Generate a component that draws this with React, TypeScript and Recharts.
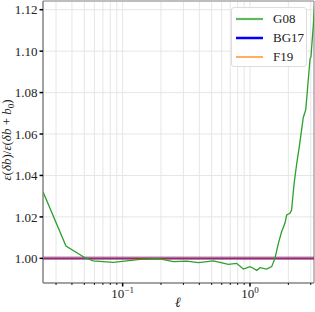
import React from 'react';
import {
  LineChart,
  Line,
  XAxis,
  YAxis,
  CartesianGrid,
  ReferenceLine,
  ReferenceArea,
  Legend,
  Label,
} from 'recharts';

const g08Ell = [
  0.0237, 0.0359, 0.0506, 0.0588, 0.0844, 0.137, 0.196, 0.25, 0.318, 0.393, 0.515, 0.581, 0.675,
  0.785, 0.887, 1.0, 1.06, 1.13, 1.2, 1.35, 1.48, 1.57, 1.67, 1.77, 1.88, 1.94, 2.06, 2.12, 2.22,
  2.33, 2.44, 2.62, 2.74, 2.96, 3.01, 3.14, 3.24,
];
const g08Vals = [
  1.0321, 1.0059, 1.0003, 0.9988, 0.9981, 0.9995, 0.9997, 0.9984, 0.9987, 0.9979, 0.9988, 0.9981,
  0.9971, 0.9976, 0.9948, 0.996, 0.9952, 0.9942, 0.9955, 0.9948, 0.996, 1.0, 1.0072, 1.0128, 1.0169,
  1.0209, 1.0217, 1.0233, 1.0361, 1.046, 1.054, 1.068, 1.0718, 1.0962, 1.0972, 1.1124, 1.126,
];
const flatEll = [0.0237, 3.18];
const bg17Vals = [1.0, 1.0];
const f19Vals = [1.0, 1.0];

const xTicks = [
  0.03, 0.04, 0.05, 0.06, 0.07, 0.08, 0.09, 0.1, 0.2, 0.3, 0.4, 0.5, 0.6, 0.7, 0.8, 0.9, 1, 2, 3,
];
const majorLabels: Record<string, string> = { '0.1': '\u22121', '1': '0' };
const yTicks = [1.0, 1.02, 1.04, 1.06, 1.08, 1.1, 1.12];

const X_DOMAIN: [number, number] = [0.0237, 3.18];
const Y_DOMAIN: [number, number] = [0.9881, 1.1242];

const g08Data = g08Ell.map((ell, i) => ({ ell, v: g08Vals[i] }));
const bg17Data = flatEll.map((ell, i) => ({ ell, v: bg17Vals[i] }));
const f19Data = flatEll.map((ell, i) => ({ ell, v: f19Vals[i] }));

const FONT = '"Liberation Serif", "DejaVu Serif", serif';

const legendItems = [
  { name: 'G08', color: '#2ca02c', width: 2.2, opacity: 0.75 },
  { name: 'BG17', color: '#0000ff', width: 2.5, opacity: 1 },
  { name: 'F19', color: '#ff7f0e', width: 1.5, opacity: 0.85 },
];

const XTick = (props: any) => {
  const { x, y, payload } = props;
  const exp = majorLabels[String(payload.value)];
  const major = exp !== undefined;
  return (
    <g>
      <line x1={x} x2={x} y1={y} y2={y + (major ? 3.5 : 2)} stroke="#000" strokeWidth={major ? 1.5 : 0.9} />
      {major && (
        <text x={x} y={y + 15} textAnchor="middle" fontFamily={FONT} fontSize={13} fill="#222">
          10
          <tspan dy={-5} fontSize={9}>
            {exp}
          </tspan>
        </text>
      )}
    </g>
  );
};

const YLabel = () => (
  <text
    x={0}
    y={0}
    transform="translate(11,140) rotate(-90)"
    textAnchor="middle"
    fontFamily={FONT}
    fontSize={13}
    fill="#222"
  >
    <tspan fontStyle="italic">ε</tspan>(<tspan fontStyle="italic">δb</tspan>)/<tspan fontStyle="italic">ε</tspan>(
    <tspan fontStyle="italic">δb</tspan> + <tspan fontStyle="italic">b</tspan>
    <tspan dy={3} fontSize={9}>
      0
    </tspan>
    <tspan dy={-3}>)</tspan>
  </text>
);

const XLabel = () => (
  <text x={178} y={307} textAnchor="middle" fontFamily={FONT} fontSize={14} fontStyle="italic" fill="#222">
    ℓ
  </text>
);

const LegendBox = () => (
  <div
    style={{
      width: 76,
      height: 60,
      border: '1px solid #ddd',
      borderRadius: 3,
      background: 'rgba(255,255,255,0.85)',
      boxSizing: 'border-box',
      paddingTop: 1,
    }}
  >
    {legendItems.map((it) => (
      <div key={it.name} style={{ display: 'flex', alignItems: 'center', height: 19 }}>
        <svg width={40} height={10} style={{ flex: 'none' }}>
          <line x1={4} x2={31} y1={5} y2={5} stroke={it.color} strokeWidth={it.width} strokeOpacity={it.opacity} />
        </svg>
        <span style={{ fontFamily: FONT, fontSize: 13, color: '#222', marginLeft: 1 }}>{it.name}</span>
      </div>
    ))}
  </div>
);

export default function App() {
  return (
    <div style={{ position: 'absolute', left: 0, top: 0, width: 315, height: 312, background: '#fff' }}>
      <LineChart width={315} height={312} margin={{ top: 1, right: 1, bottom: 0, left: 0 }}>
        <CartesianGrid stroke="#e6e6e6" strokeWidth={1} />
        <XAxis
          dataKey="ell"
          type="number"
          scale="log"
          domain={X_DOMAIN}
          allowDataOverflow
          ticks={xTicks}
          interval={0}
          tick={<XTick />}
          tickLine={false}
          tickSize={0}
          tickMargin={0}
          height={29}
          axisLine={{ stroke: '#888', strokeWidth: 1 }}
        >
          <Label content={<XLabel />} />
        </XAxis>
        <YAxis
          type="number"
          domain={Y_DOMAIN}
          allowDataOverflow
          ticks={yTicks}
          interval={0}
          width={43}
          tickSize={3.5}
          tickMargin={2}
          tickFormatter={(v: number) => v.toFixed(2)}
          tick={{ fontFamily: FONT, fontSize: 13, fill: '#222' }}
          tickLine={{ stroke: '#000', strokeWidth: 1.5 }}
          axisLine={{ stroke: '#888', strokeWidth: 1 }}
        >
          <Label content={<YLabel />} />
        </YAxis>
        <ReferenceArea
          x1={X_DOMAIN[0]}
          x2={X_DOMAIN[1]}
          y1={Y_DOMAIN[0]}
          y2={Y_DOMAIN[1]}
          fill="none"
          stroke="#888"
          strokeWidth={1}
          ifOverflow="visible"
        />
        <Line
          data={bg17Data}
          dataKey="v"
          name="BG17"
          stroke="#0000ff"
          strokeOpacity={0.45}
          strokeWidth={3.5}
          dot={false}
          type="linear"
          isAnimationActive={false}
        />
        <Line
          data={f19Data}
          dataKey="v"
          name="F19"
          stroke="#ff7f0e"
          strokeWidth={1.5}
          dot={false}
          type="linear"
          isAnimationActive={false}
        />
        <ReferenceLine y={1} stroke="#c8202a" strokeWidth={1.2} />
        <Line
          data={g08Data}
          dataKey="v"
          name="G08"
          stroke="#2ca02c"
          strokeWidth={1.3}
          dot={false}
          type="linear"
          isAnimationActive={false}
        />
        <Legend
          layout="horizontal"
          verticalAlign="middle"
          align="center"
          wrapperStyle={{ top: 7, left: 231, width: 76, height: 60 }}
          content={<LegendBox />}
        />
      </LineChart>
    </div>
  );
}
